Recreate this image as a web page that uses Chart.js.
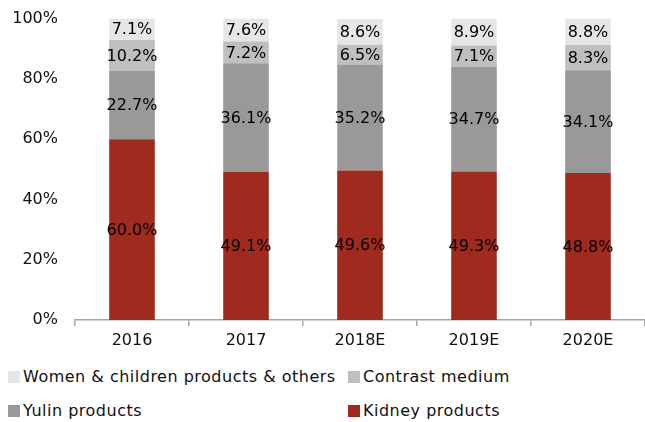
<!DOCTYPE html>
<html>
<head>
<meta charset="utf-8">
<script src="https://cdn.jsdelivr.net/npm/chart.js@4.4.1/dist/chart.umd.min.js"></script>
<style>
  body { margin: 0; background: #fff; font-family: "DejaVu Sans", sans-serif; }
  #wrap { position: relative; width: 645px; height: 422px; }
  #chartBox { position: absolute; left: 0; top: 0; width: 645px; height: 350px; }
  #legend { position: absolute; left: 8px; top: 367px; width: 637px; }
  .item { position: absolute; display: flex; align-items: center; font-size: 16px; color: #111; letter-spacing: 0.5px; white-space: nowrap; }
  .swatch { width: 12px; height: 12px; margin-right: 3px; }
</style>
</head>
<body>
<div id="wrap">
  <div id="chartBox"><canvas id="mix"></canvas></div>
  <div id="legend"></div>
</div>
<script>
// Revenue mix by product line, % of total
const years = ['2016', '2017', '2018E', '2019E', '2020E'];
const kidney = [60.0, 49.1, 49.6, 49.3, 48.8];
const yulin = [22.7, 36.1, 35.2, 34.7, 34.1];
const contrast = [10.2, 7.2, 6.5, 7.1, 8.3];
const womenChildren = [7.1, 7.6, 8.6, 8.9, 8.8];
const yTicks = [0, 20, 40, 60, 80, 100];

const FONT = '"DejaVu Sans", sans-serif';

// writes the share inside every stacked segment
const segmentLabels = {
    id: 'segmentLabels',
    afterDatasetsDraw(chart) {
        const ctx = chart.ctx;
        ctx.save();
        ctx.font = '16px ' + FONT;
        ctx.fillStyle = '#000';
        ctx.textAlign = 'center';
        ctx.textBaseline = 'middle';
        chart.data.datasets.forEach((ds, i) => {
            chart.getDatasetMeta(i).data.forEach((bar, j) => {
                const p = bar.getCenterPoint();
                ctx.fillText(ds.data[j].toFixed(1) + '%', p.x, p.y + 1);
            });
        });
        ctx.restore();
    }
};

const datasets = [
    { label: 'Kidney products', data: kidney, backgroundColor: '#A12A1F' },
    { label: 'Yulin products', data: yulin, backgroundColor: '#999999' },
    { label: 'Contrast medium', data: contrast, backgroundColor: '#BFBFBF' },
    { label: 'Women & children products & others', data: womenChildren, backgroundColor: '#E6E6E6' }
];

new Chart(document.getElementById('mix'), {
    type: 'bar',
    data: { labels: years, datasets: datasets },
    options: {
        responsive: true,
        maintainAspectRatio: false,
        animation: false,
        layout: { padding: { top: 11, right: 0, bottom: 0, left: 0 } },
        categoryPercentage: 1,
        barPercentage: 0.4,
        plugins: {
            legend: { display: false },
            tooltip: { enabled: false }
        },
        scales: {
            x: {
                stacked: true,
                grid: { drawOnChartArea: false, tickLength: 6, color: '#A6A6A6', lineWidth: 1.5 },
                border: { color: '#A6A6A6', width: 1.5 },
                ticks: { color: '#111', font: { family: FONT, size: 16 }, padding: 5 },
                afterFit(scale) { scale.height = 30; }
            },
            y: {
                stacked: true,
                min: 0,
                max: 100,
                afterBuildTicks(scale) { scale.ticks = yTicks.map(v => ({ value: v })); },
                grid: { display: false },
                border: { display: false },
                ticks: {
                    color: '#111',
                    font: { family: FONT, size: 16 },
                    padding: 9,
                    callback: v => v + '%'
                },
                afterFit(scale) { scale.width = 75; }
            }
        }
    },
    plugins: [segmentLabels]
});

// legend in two columns, top segment first
const legendBox = document.getElementById('legend');
const order = [3, 2, 1, 0];
order.forEach((idx, k) => {
    const ds = datasets[idx];
    const item = document.createElement('div');
    item.className = 'item';
    item.style.left = (k % 2 === 0 ? 0 : 340) + 'px';
    item.style.top = (k < 2 ? 0 : 34) + 'px';
    item.innerHTML = '<span class="swatch" style="background:' + ds.backgroundColor + '"></span>' + ds.label;
    legendBox.appendChild(item);
});
</script>
</body>
</html>
